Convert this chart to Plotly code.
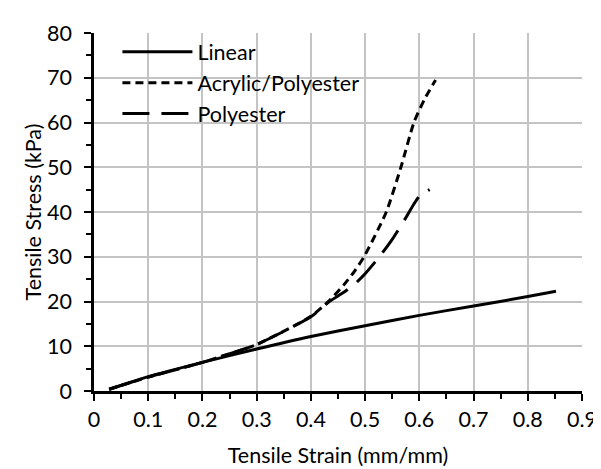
import plotly.graph_objects as go

# ---- data ----
linear_x = [0.028, 0.1, 0.2, 0.3, 0.4, 0.5, 0.6, 0.7, 0.8, 0.852]
linear_y = [0.4, 3.2, 6.4, 9.4, 12.2, 14.6, 16.9, 19.0, 21.1, 22.3]

acrylic_x = [0.028, 0.1, 0.2, 0.3, 0.4, 0.434, 0.46, 0.48, 0.498, 0.539, 0.566, 0.59, 0.61, 0.63]
acrylic_y = [0.4, 3.1, 6.4, 10.4, 16.7, 20.2, 23.6, 26.7, 30.0, 40.0, 50.0, 60.0, 65.3, 69.5]

polyester_x = [0.028, 0.1, 0.2, 0.3, 0.4, 0.434, 0.46, 0.48, 0.5, 0.525, 0.55, 0.575, 0.59, 0.6, 0.619]
polyester_y = [0.4, 3.1, 6.4, 10.4, 16.6, 20.0, 22.0, 23.8, 26.2, 29.8, 33.9, 38.7, 41.8, 43.5, 45.0]

series_names = ["Linear", "Acrylic/Polyester", "Polyester"]
x_title = "Tensile Strain (mm/mm)"
y_title = "Tensile Stress (kPa)"

FONT = "Lato"
FS = 21.5

fig = go.Figure()
fig.add_trace(go.Scatter(x=linear_x, y=linear_y, mode="lines", name=series_names[0],
                         legendgroup="a", line=dict(color="black", width=3, shape="spline", smoothing=0.6)))
fig.add_trace(go.Scatter(x=acrylic_x, y=acrylic_y, mode="lines", name=series_names[1],
                         legendgroup="b", line=dict(color="black", width=3, dash="8px,5px", shape="spline", smoothing=0.6)))
fig.add_trace(go.Scatter(x=polyester_x, y=polyester_y, mode="lines", name=series_names[2],
                         legendgroup="c", line=dict(color="black", width=3, dash="27px,12px", shape="spline", smoothing=0.6)))

axis_common = dict(
    showgrid=True, gridcolor="#c4c4c4", gridwidth=2,
    showline=True, linecolor="black", linewidth=2.5,
    ticks="outside", ticklen=7, tickwidth=2, tickcolor="black",
    zeroline=False,
    tickfont=dict(family=FONT, size=FS, color="black"),
)

fig.update_layout(
    width=601, height=469,
    margin=dict(l=86, r=16, t=14, b=82),
    paper_bgcolor="white", plot_bgcolor="white",
    font=dict(family=FONT, size=FS, color="black"),
    showlegend=True,
    legend=dict(x=0.048, y=1.005, xanchor="left", yanchor="top",
                bgcolor="rgba(0,0,0,0)", borderwidth=0, itemwidth=70,
                tracegroupgap=10.5, traceorder="normal",
                font=dict(family=FONT, size=FS, color="black")),
    # white legend box that hides the gridlines behind the legend
    shapes=[dict(type="rect", xref="paper", yref="paper", x0=0.048, x1=0.583, y0=0.720, y1=0.991,
                 fillcolor="white", line=dict(width=0), layer="between")],
    xaxis=dict(range=[0, 0.9], tick0=0, dtick=0.1,
               minor=dict(dtick=0.05, ticks="outside", ticklen=5, tickwidth=2, tickcolor="black", showgrid=False),
               title=dict(text=x_title, font=dict(family=FONT, size=FS, color="black"), standoff=18),
               ticklabelstandoff=0, **axis_common),
    yaxis=dict(range=[0, 80], tick0=0, dtick=10,
               minor=dict(dtick=5, ticks="outside", ticklen=5, tickwidth=2, tickcolor="black", showgrid=False),
               title=dict(text=y_title, font=dict(family=FONT, size=FS, color="black"), standoff=0),
               ticklabelstandoff=8, **axis_common),
)

fig.write_html("out.html")
